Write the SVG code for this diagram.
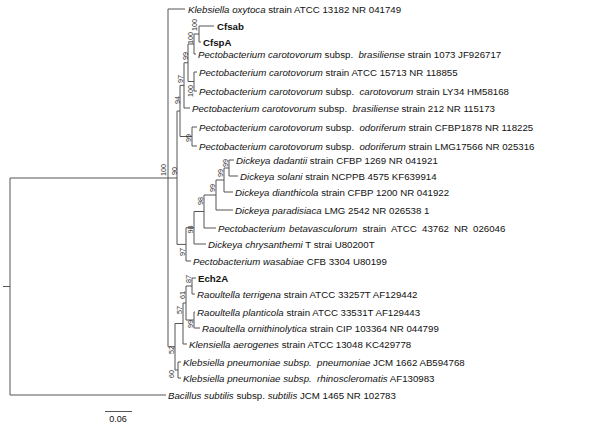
<svg xmlns="http://www.w3.org/2000/svg" width="600" height="425" viewBox="0 0 600 425">
<style>
.br{fill:none;stroke:#555;stroke-width:1}
.lf{font-family:"Liberation Sans",Arial,sans-serif;font-size:9.7px;fill:#111;white-space:pre}
.b{font-weight:bold}
.i{font-style:italic}
.bs{font-family:"Liberation Sans",Arial,sans-serif;font-size:7.2px;fill:#333;text-anchor:middle}
.sc{font-family:"Liberation Sans",Arial,sans-serif;font-size:9px;fill:#111;text-anchor:middle}
</style>
<rect width="600" height="425" fill="#fff"/>
<g id="connectors">
<path class="br" d="M10,178V395M10,178H168M10,395H166M3,286.5H10"/>
<path class="br" d="M168,9V346.75M168,9H185M168,178H177M168,346.75H175"/>
<path class="br" d="M177,111V244.4M177,111H180M177,244.4H186"/>
<path class="br" d="M180,85.4V136.5M180,85.4H184M180,136.5H192"/>
<path class="br" d="M184,62.75V108M184,62.75H188M184,108H190"/>
<path class="br" d="M188,44V81.5M188,44H194M188,81.5H194"/>
<path class="br" d="M194,34V54M194,34H199M194,54H196"/>
<path class="br" d="M199,26V42M199,26H214M199,42H201"/>
<path class="br" d="M194,72V91M194,72H197M194,91H197"/>
<path class="br" d="M192,127V146M192,127H197M192,146H197"/>
<path class="br" d="M186,227.75V261M186,227.75H194M186,261H191"/>
<path class="br" d="M194,211.5V244M194,211.5H204M194,244H206"/>
<path class="br" d="M204,195V228M204,195H216M204,228H216"/>
<path class="br" d="M216,180V210M216,180H224M216,210H233"/>
<path class="br" d="M224,168V192M224,168H229M224,192H233"/>
<path class="br" d="M229,160V176M229,160H234M229,176H238"/>
<path class="br" d="M175,323.5V370M175,323.5H183M175,370H178"/>
<path class="br" d="M183,303V344M183,303H186M183,344H187"/>
<path class="br" d="M186,286V320M186,286H192M186,320H194"/>
<path class="br" d="M192,278V294M192,278H196M192,294H195"/>
<path class="br" d="M194,312V328M194,312H195M194,328H200"/>
<path class="br" d="M178,362V378M178,362H181M178,378H181"/>
<path class="br" d="M105,411.5H132"/>
</g>
<g id="bootstrap">
<text class="bs" transform="translate(163.5,170) rotate(-90)" dy="0.35em">100</text>
<text class="bs" transform="translate(174,171) rotate(-90)" dy="0.35em">90</text>
<text class="bs" transform="translate(194.5,25) rotate(-90)" dy="0.35em">100</text>
<text class="bs" transform="translate(190,38) rotate(-90)" dy="0.35em">100</text>
<text class="bs" transform="translate(185,56) rotate(-90)" dy="0.35em">99</text>
<text class="bs" transform="translate(180.5,79) rotate(-90)" dy="0.35em">97</text>
<text class="bs" transform="translate(190.5,91) rotate(-90)" dy="0.35em">100</text>
<text class="bs" transform="translate(177.5,100) rotate(-90)" dy="0.35em">94</text>
<text class="bs" transform="translate(188,138) rotate(-90)" dy="0.35em">99</text>
<text class="bs" transform="translate(225,163) rotate(-90)" dy="0.35em">99</text>
<text class="bs" transform="translate(220,173) rotate(-90)" dy="0.35em">99</text>
<text class="bs" transform="translate(212,188) rotate(-90)" dy="0.35em">99</text>
<text class="bs" transform="translate(200,201) rotate(-90)" dy="0.35em">98</text>
<text class="bs" transform="translate(190,229.5) rotate(-90)" dy="0.35em">98</text>
<text class="bs" transform="translate(182,252) rotate(-90)" dy="0.35em">97</text>
<text class="bs" transform="translate(188.5,279) rotate(-90)" dy="0.35em">87</text>
<text class="bs" transform="translate(182.5,295) rotate(-90)" dy="0.35em">61</text>
<text class="bs" transform="translate(179.5,310) rotate(-90)" dy="0.35em">57</text>
<text class="bs" transform="translate(190,324) rotate(-90)" dy="0.35em">99</text>
<text class="bs" transform="translate(171.5,350) rotate(-90)" dy="0.35em">52</text>
<text class="bs" transform="translate(171,374) rotate(-90)" dy="0.35em">60</text>
</g>
<g id="leaf-01"><text class="lf" x="188" y="12.5"><tspan class="i">Klebsiella oxytoca</tspan> strain ATCC 13182 NR 041749</text></g>
<g id="leaf-02"><text class="lf b" x="217" y="29.5">Cfsab</text></g>
<g id="leaf-03"><text class="lf b" x="203" y="45.5">CfspA</text></g>
<g id="leaf-04"><text class="lf" x="198" y="57.5"><tspan class="i">Pectobacterium carotovorum</tspan> subsp.  <tspan class="i">brasiliense</tspan> strain 1073 JF926717</text></g>
<g id="leaf-05"><text class="lf" x="199" y="75.5"><tspan class="i">Pectobacterium carotovorum</tspan> strain ATCC 15713 NR 118855</text></g>
<g id="leaf-06"><text class="lf" x="199" y="94.5"><tspan class="i">Pectobacterium carotovorum</tspan> subsp.  <tspan class="i">carotovorum</tspan> strain LY34 HM58168</text></g>
<g id="leaf-07"><text class="lf" x="192" y="111.5"><tspan class="i">Pectobacterium carotovorum</tspan> subsp.  <tspan class="i">brasiliense</tspan> strain 212 NR 115173</text></g>
<g id="leaf-08"><text class="lf" x="199" y="130.5"><tspan class="i">Pectobacterium carotovorum</tspan> subsp.  <tspan class="i">odoriferum</tspan> strain CFBP1878 NR 118225</text></g>
<g id="leaf-09"><text class="lf" x="199" y="149.5"><tspan class="i">Pectobacterium carotovorum</tspan> subsp.  <tspan class="i">odoriferum</tspan> strain LMG17566 NR 025316</text></g>
<g id="leaf-10"><text class="lf" x="236" y="163.5"><tspan class="i">Dickeya dadantii</tspan> strain CFBP 1269 NR 041921</text></g>
<g id="leaf-11"><text class="lf" x="240" y="179.5"><tspan class="i">Dickeya solani</tspan> strain NCPPB 4575 KF639914</text></g>
<g id="leaf-12"><text class="lf" x="235" y="195.5"><tspan class="i">Dickeya dianthicola</tspan> strain CFBP 1200 NR 041922</text></g>
<g id="leaf-13"><text class="lf" x="235" y="213.5"><tspan class="i">Dickeya paradisiaca</tspan> LMG 2542 NR 026538 1</text></g>
<g id="leaf-14"><text class="lf" y="231.5"><tspan class="i" x="218">Pectobacterium</tspan><tspan class="i" x="289">betavasculorum</tspan><tspan x="362.5">strain</tspan><tspan x="391">ATCC</tspan><tspan x="422">43762</tspan><tspan x="454">NR</tspan><tspan x="473">026046</tspan></text></g>
<g id="leaf-15"><text class="lf" x="208" y="247.5"><tspan class="i">Dickeya chrysanthemi</tspan> T strai U80200T</text></g>
<g id="leaf-16"><text class="lf" x="193" y="264.5"><tspan class="i">Pectobacterium wasabiae</tspan> CFB 3304 U80199</text></g>
<g id="leaf-17"><text class="lf b" x="198" y="281.5">Ech2A</text></g>
<g id="leaf-18"><text class="lf" x="197" y="297.5"><tspan class="i">Raoultella terrigena</tspan> strain ATCC 33257T AF129442</text></g>
<g id="leaf-19"><text class="lf" x="197" y="315.5"><tspan class="i">Raoultella planticola</tspan> strain ATCC 33531T AF129443</text></g>
<g id="leaf-20"><text class="lf" x="202" y="331.5"><tspan class="i">Raoultella ornithinolytica</tspan> strain CIP 103364 NR 044799</text></g>
<g id="leaf-21"><text class="lf" x="189" y="347.5"><tspan class="i">Klensiella aerogenes</tspan> strain ATCC 13048 KC429778</text></g>
<g id="leaf-22"><text class="lf" x="183" y="365.5"><tspan class="i">Klebsiella pneumoniae subsp.  pneumoniae</tspan> JCM 1662 AB594768</text></g>
<g id="leaf-23"><text class="lf" x="183" y="381.5"><tspan class="i">Klebsiella pneumoniae subsp.  rhinoscleromatis</tspan> AF130983</text></g>
<g id="leaf-24"><text class="lf" x="168" y="398.5"><tspan class="i">Bacillus subtilis</tspan> subsp. <tspan class="i">subtilis</tspan> JCM 1465 NR 102783</text></g>
<g id="scale"><text class="sc" x="118" y="422">0.06</text></g>
</svg>
